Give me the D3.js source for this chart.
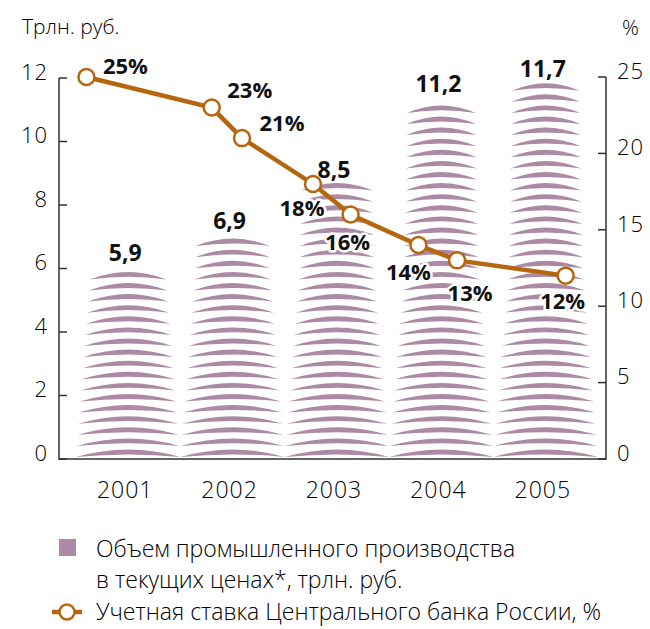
<!DOCTYPE html>
<html>
<head>
<meta charset="utf-8">
<script src="https://cdn.jsdelivr.net/npm/d3@7"></script>
<style>
  body { margin: 0; background: #fff; }
  text { font-family: "Open Sans", "Noto Sans", sans-serif; fill: #111; }
  .light { font-weight: 300; fill: #000; }
</style>
</head>
<body>
<div id="chart"></div>
<script>
// data
var years = ["2001", "2002", "2003", "2004", "2005"];
var volume = [5.9, 6.9, 8.5, 11.2, 11.7];
var volumeLabels = ["5,9", "6,9", "8,5", "11,2", "11,7"];
var rateDates = [2001.10, 2002.30, 2002.59, 2003.27, 2003.63, 2004.28, 2004.65, 2005.69];
var rates = [25, 23, 21, 18, 16, 14, 13, 12];
var leftTicks = [0, 2, 4, 6, 8, 10, 12];
var rightTicks = [0, 5, 10, 15, 20, 25];

// label placement relative to each rate point
var rateLabelOffsets = [[39, -1], [38, -8], [40, -5], [-11, 34], [-3, 37], [-10, 37], [13, 43], [-3, 35]];

var W = 650, H = 629;
var barColor = "#ac8aa5", lineColor = "#b5670f";

var svg = d3.select("#chart")
    .append("svg")
        .attr("width", W)
        .attr("height", H);

var x = d3.scaleBand()
    .domain(years)
    .range([76, 598])
    .padding(0);

var xTime = d3.scaleLinear()
    .domain([2001, 2006])
    .range([76, 598]);

var yL = d3.scaleLinear().domain([0, 12]).range([459, 78]);
var yR = d3.scaleLinear().domain([0, 25]).range([459, 77]);

// crescents get narrower going up
var widthFrac = d3.scaleLinear()
    .domain([0, 1.5, 6, 12])
    .range([1.0, 0.945, 0.72, 0.645])
    .clamp(true);

var pitch = 11.1, bulgeTop = 7.5, bulgeBot = 2.6;

function crescent(cx, y, hw) {
    return "M" + (cx - hw) + "," + y +
        "Q" + cx + "," + (y - 2 * bulgeTop) + "," + (cx + hw) + "," + y +
        "Q" + cx + "," + (y - 2 * bulgeBot) + "," + (cx - hw) + "," + y + "Z";
}

// bars made of stacked arcs
years.forEach(function(yr, i) {
    var cx = x(yr) + x.bandwidth() / 2;
    var top = yL(volume[i]);
    var rows = [];
    for (var base = yL(0) - 2; base - bulgeTop >= top - 8; base -= pitch) rows.push(base);
    svg.append("g").selectAll("path")
        .data(rows)
        .enter()
        .append("path")
        .attr("d", function(b) {
            var hw = x.bandwidth() * widthFrac(yL.invert(b)) / 2;
            return crescent(cx, b, hw);
        })
        .attr("fill", barColor);
});

// axes
var axisColor = "#333";
svg.append("path")
    .attr("d", "M59," + yL(12) + "V459H606V" + yR(25))
    .attr("fill", "none")
    .attr("stroke", axisColor)
    .attr("stroke-width", 1.5);

svg.selectAll(".ltick")
    .data(leftTicks)
    .enter()
    .append("line")
    .attr("x1", 59).attr("x2", 67)
    .attr("y1", d => yL(d)).attr("y2", d => yL(d))
    .attr("stroke", axisColor).attr("stroke-width", 1.5);

svg.selectAll(".llab")
    .data(leftTicks)
    .enter()
    .append("text")
    .attr("class", "light")
    .attr("x", 48)
    .attr("y", d => yL(d) - 6)
    .attr("dy", "0.35em")
    .attr("text-anchor", "end")
    .style("font-size", "22px")
    .style("letter-spacing", "1px")
    .text(d => d);

svg.selectAll(".rtick")
    .data(rightTicks)
    .enter()
    .append("line")
    .attr("x1", 598).attr("x2", 606)
    .attr("y1", d => yR(d)).attr("y2", d => yR(d))
    .attr("stroke", axisColor).attr("stroke-width", 1.5);

svg.selectAll(".rlab")
    .data(rightTicks)
    .enter()
    .append("text")
    .attr("class", "light")
    .attr("x", 617)
    .attr("y", d => yR(d) - 6)
    .attr("dy", "0.35em")
    .style("font-size", "22px")
    .style("letter-spacing", "1px")
    .text(d => d);

svg.selectAll(".xlab")
    .data(years)
    .enter()
    .append("text")
    .attr("class", "light")
    .attr("x", d => x(d) + x.bandwidth() / 2 - 3)
    .attr("y", 498)
    .attr("text-anchor", "middle")
    .style("font-size", "23px")
    .style("letter-spacing", "1px")
    .text(d => d);

svg.append("text").attr("class", "light").attr("x", 22).attr("y", 34).style("font-size", "21px").text("Трлн. руб.");
svg.append("text").attr("class", "light").attr("x", 622).attr("y", 35).style("font-size", "21px").text("%");

// bar value labels
svg.selectAll(".vlab")
    .data(volume)
    .enter()
    .append("text")
    .attr("x", (d, i) => x(years[i]) + x.bandwidth() / 2 - 3)
    .attr("y", d => yL(d) - 11)
    .attr("text-anchor", "middle")
    .style("font-size", "23px")
    .style("font-weight", "bold")
    .style("paint-order", "stroke")
    .style("stroke", "#fff")
    .style("stroke-width", "4px")
    .text((d, i) => volumeLabels[i]);

// rate line
var pts = rates.map((r, i) => [xTime(rateDates[i]), yR(r)]);
svg.append("path")
    .attr("d", d3.line()(pts))
    .attr("fill", "none")
    .attr("stroke", lineColor)
    .attr("stroke-width", 4.5);

svg.selectAll(".rlabel")
    .data(rates)
    .enter()
    .append("text")
    .attr("x", (d, i) => pts[i][0] + rateLabelOffsets[i][0])
    .attr("y", (d, i) => pts[i][1] + rateLabelOffsets[i][1] - 2)
    .attr("text-anchor", "middle")
    .style("font-size", "22px")
    .style("font-weight", "bold")
    .style("paint-order", "stroke")
    .style("stroke", "#fff")
    .style("stroke-width", "5px")
    .style("stroke-linejoin", "round")
    .text(d => d + "%");

svg.selectAll(".pt")
    .data(pts)
    .enter()
    .append("circle")
    .attr("cx", d => d[0])
    .attr("cy", d => d[1])
    .attr("r", 8)
    .attr("fill", "#fff")
    .attr("stroke", lineColor)
    .attr("stroke-width", 2.5);

// legend
svg.append("rect").attr("x", 59).attr("y", 539).attr("width", 17).attr("height", 17).attr("fill", barColor);
svg.append("text").attr("class", "light").attr("x", 96).attr("y", 557).style("font-size", "23px").text("Объем промышленного производства");
svg.append("text").attr("class", "light").attr("x", 96).attr("y", 588).style("font-size", "23px").text("в текущих ценах*, трлн. руб.");
svg.append("line").attr("x1", 52).attr("x2", 82).attr("y1", 612).attr("y2", 612)
    .attr("stroke", lineColor).attr("stroke-width", 4.5);
svg.append("circle").attr("cx", 67).attr("cy", 612).attr("r", 7.5)
    .attr("fill", "#fff").attr("stroke", lineColor).attr("stroke-width", 2.5);
svg.append("text").attr("class", "light").attr("x", 96).attr("y", 620).style("font-size", "23px").text("Учетная ставка Центрального банка России, %");
</script>
</body>
</html>
